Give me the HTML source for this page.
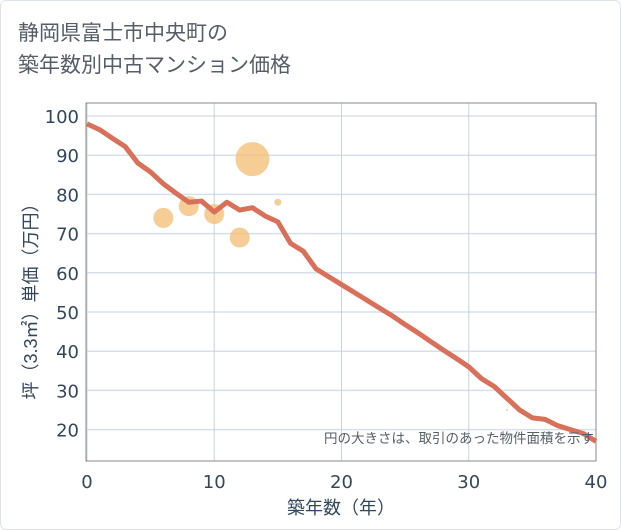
<!DOCTYPE html>
<html><head><meta charset="utf-8"><style>
body{margin:0;background:#fff;font-family:"Liberation Sans","Noto Sans CJK JP",sans-serif;}
#card{position:absolute;left:0;top:0;width:619px;height:528px;border:1px solid #dde3ea;border-radius:6px;background:#fff;}
#title{position:absolute;left:18px;top:16px;font-size:21px;line-height:32px;color:#555e68;font-family:"Noto Sans CJK JP",sans-serif;}
</style></head><body>
<div id="card"></div>
<div id="title">静岡県富士市中央町の<br>築年数別中古マンション価格</div>
<svg id="chart" width="621" height="530" style="position:absolute;left:0;top:0"></svg>
<script>
const xTicks=[0,10,20,30,40];
const yTicks=[20,30,40,50,60,70,80,90,100];
const lineX=[0,1,2,3,4,5,6,7,8,9,10,11,12,13,14,15,16,17,18,19,20,21,22,23,24,25,26,27,28,29,30,31,32,33,34,35,36,37,38,39,40];
const lineY=[98,96.5,94.3,92.2,88,85.7,82.7,80.3,78,78.3,75.5,78,76,76.6,74.5,73,67.5,65.5,61,59,57,55,53,51,49,46.8,44.7,42.5,40.3,38.2,36,33,31,28,25,23,22.6,21,20,19,17];
const bubX=[6,8,10,12,13,15,33];
const bubY=[74,77,75,69,89,78,25];
const bubR=[10,10,10,10,17,3.5,1];
const L=86,R=596,T=103,B=461;
const xs=v=>87+(v-0)*(596-87)/40;
const ys=v=>116+(100-v)*39.2/10;
const svg=document.getElementById('chart');
const NS='http://www.w3.org/2000/svg';
const TF='"DejaVu Sans","Liberation Sans",sans-serif';
function mk(t,a){const e=document.createElementNS(NS,t);for(const k in a)e.setAttribute(k,a[k]);svg.appendChild(e);return e;}
let e=mk('rect',{x:L,y:T,width:R-L,height:B-T,fill:'#fff',stroke:'#888',"stroke-width":1});


yTicks.forEach(v=>{
 let g=mk('line',{x1:L,x2:R,y1:ys(v),y2:ys(v),stroke:'#d5e0ec','stroke-width':1.5});
 
 
 let t=mk('text',{x:L-7,y:ys(v)+7,'text-anchor':'end','font-size':18,fill:'#33475b','font-family':TF});
 t.textContent=v;
 
 
});
xTicks.forEach(v=>{
 let g=mk('line',{x1:xs(v),x2:xs(v),y1:T,y2:B,stroke:'#c8d3df','stroke-width':1});
 
 
 let t=mk('text',{x:xs(v),y:B+27,'text-anchor':'middle','font-size':18,fill:'#33475b','font-family':TF});
 t.textContent=v;
 
 
});
e=mk('rect',{x:L,y:T,width:R-L,height:B-T,fill:'none',stroke:'#888',"stroke-width":1});


bubX.forEach((v,i)=>{
 let c=mk('circle',{cx:xs(v),cy:ys(bubY[i]),r:bubR[i],fill:'#f3c07a','fill-opacity':0.8});
 
 
});
let p=mk('polyline',{points:lineX.map((v,i)=>xs(v)+','+ys(lineY[i])).join(' '),fill:'none',stroke:'#d9705a','stroke-width':5,'stroke-linejoin':'round'});


let n=mk('text',{x:594,y:443,'text-anchor':'end','font-size':13.5,fill:'#555e68'});
n.textContent='円の大きさは、取引のあった物件面積を示す';


let xt=mk('text',{x:341,y:514,'text-anchor':'middle','font-size':18,fill:'#33475b'});
xt.textContent='築年数（年）';


let yt=mk('text',{x:0,y:0,'text-anchor':'middle','font-size':18,fill:'#33475b',transform:'translate(37,297) rotate(-90)'});
yt.textContent='坪（3.3㎡）単価（万円）';


</script>
</body></html>
